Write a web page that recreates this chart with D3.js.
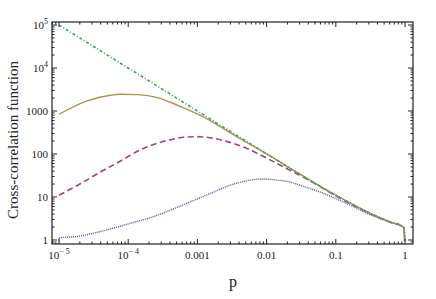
<!DOCTYPE html>
<html>
<head>
<meta charset="utf-8">
<script src="https://cdn.jsdelivr.net/npm/d3@7"></script>
<style>
  body { margin: 0; background: #fff; }
  text { font-family: "Liberation Serif", "DejaVu Serif", serif; fill: #222; }
</style>
</head>
<body>
<svg width="436" height="299"></svg>
<script>
// values (p, value)
var bluePts = [[1e-5, 0.92], [1e-5, 1.13], [1.7e-5, 1.19], [3.9e-5, 1.56], [1.07e-4, 2.44], [2.3e-4, 3.47],
  [4e-4, 4.9], [1.2e-3, 10.2], [3.7e-3, 20.9], [8.9e-3, 26.3], [0.014, 24.8],
  [0.022, 22.3], [0.030, 19], [0.066, 12.2], [0.16, 6.5], [0.3, 4.0], [0.6, 2.6], [0.93, 2.0], [0.97, 1.8], [0.99, 0.95]];
var magentaPts = [[1e-5, 11], [2e-5, 20], [4.4e-5, 42], [6.8e-5, 61], [1.66e-4, 135], [3.2e-4, 195],
  [4e-4, 213], [6.3e-4, 245], [9.8e-4, 253], [1.7e-3, 232], [2.7e-3, 194], [5.1e-3, 136], [0.01, 80],
  [0.0174, 50.5], [0.027, 35], [0.05, 20.5], [0.1, 10.6], [0.316, 4.1], [0.6, 2.62], [0.93, 2.0], [0.97, 1.8], [0.99, 0.95]];
var goldPts = [[1e-5, 840], [2.5e-5, 1700], [5.5e-5, 2320], [7.6e-5, 2450], [1.4e-4, 2400], [2.9e-4, 1970],
  [4e-4, 1620], [5.6e-4, 1290], [1.2e-3, 740], [3.7e-3, 253], [0.0112, 90], [0.0316, 32.6], [0.1, 11],
  [0.316, 4.16], [0.6, 2.66], [0.93, 2.05], [0.97, 1.85], [0.99, 0.95]];
var greenPts = [[1e-5, 100000], [3.16e-5, 31600], [1e-4, 10000], [3.16e-4, 3170], [1e-3, 1000], [3.16e-3, 317],
  [0.01, 101], [0.0316, 32.6], [0.1, 11], [0.316, 4.16], [0.6, 2.66], [0.93, 2.08], [0.97, 1.9], [0.99, 0.95]];

var xTicks = [1e-5, 1e-4, 1e-3, 1e-2, 1e-1, 1];
var xTickLabels = [["10", "-5"], ["10", "-4"], ["0.001"], ["0.01"], ["0.1"], ["1"]];
var yTicks = [1, 10, 100, 1000, 1e4, 1e5];
var yTickLabels = [["1"], ["10"], ["100"], ["1000"], ["10", "4"], ["10", "5"]];

var svg = d3.select("svg");
var frame = {left: 52, right: 413, top: 22, bottom: 244};

var x = d3.scaleLog().domain([1e-5, 1]).range([59, 405]);
var y = d3.scaleLog().domain([1, 1e5]).range([240, 25]);

var series = [
  {pts: bluePts, color: "#5050b4", dash: "1,1", width: 1.4},
  {pts: magentaPts, color: "#a3427f", dash: "6,3.5", width: 1.6},
  {pts: goldPts, color: "#ab9552", dash: null, width: 1.4},
  {pts: greenPts, color: "#3fa35a", dash: "3,2,1,2", width: 1.6}
];

var line = d3.line()
  .x(function(d) { return x(d[0]); })
  .y(function(d) { return y(d[1]); })
  .curve(d3.curveMonotoneX);

svg.append("clipPath").attr("id", "clip")
  .append("rect")
  .attr("x", frame.left).attr("y", frame.top)
  .attr("width", frame.right - frame.left).attr("height", frame.bottom - frame.top);

var g = svg.append("g").attr("clip-path", "url(#clip)");
series.forEach(function(s) {
  g.append("path")
    .attr("d", line(s.pts))
    .attr("fill", "none")
    .attr("stroke", s.color)
    .attr("stroke-width", s.width)
    .attr("stroke-dasharray", s.dash);
});

// ticks, minor and major, pointing inward on all four sides
var minorX = [];
for (var e = -6; e <= 0; e++) {
  for (var k = 2; k <= 9; k++) {
    var v = k * Math.pow(10, e);
    if (x(v) > frame.left && x(v) < frame.right) minorX.push(v);
  }
}
var minorY = [];
for (var e2 = -1; e2 <= 5; e2++) {
  for (var k2 = 2; k2 <= 9; k2++) {
    var v2 = k2 * Math.pow(10, e2);
    if (y(v2) > frame.top && y(v2) < frame.bottom) minorY.push(v2);
  }
}

var axisG = svg.append("g").attr("stroke", "#222").attr("stroke-width", 1);
function xTick(v, len) {
  axisG.append("line").attr("x1", x(v)).attr("x2", x(v))
    .attr("y1", frame.bottom).attr("y2", frame.bottom - len);
  axisG.append("line").attr("x1", x(v)).attr("x2", x(v))
    .attr("y1", frame.top).attr("y2", frame.top + len);
}
function yTick(v, len) {
  axisG.append("line").attr("y1", y(v)).attr("y2", y(v))
    .attr("x1", frame.left).attr("x2", frame.left + len);
  axisG.append("line").attr("y1", y(v)).attr("y2", y(v))
    .attr("x1", frame.right).attr("x2", frame.right - len);
}
minorX.forEach(function(v) { xTick(v, 2.5); });
xTicks.forEach(function(v) { xTick(v, 5); });
minorY.forEach(function(v) { yTick(v, 2.5); });
yTicks.forEach(function(v) { yTick(v, 5); });

svg.append("rect")
  .attr("x", frame.left).attr("y", frame.top)
  .attr("width", frame.right - frame.left).attr("height", frame.bottom - frame.top)
  .attr("fill", "none").attr("stroke", "#222").attr("stroke-width", 1.2);

// tick labels
xTicks.forEach(function(v, i) {
  var t = svg.append("text")
    .attr("x", x(v)).attr("y", 259)
    .attr("text-anchor", "middle")
    .attr("font-size", 11);
  t.append("tspan").text(xTickLabels[i][0]);
  if (xTickLabels[i][1]) {
    t.append("tspan").attr("dy", -5).attr("font-size", 8).text(xTickLabels[i][1].replace("-", "\u2212 "));
  }
});
yTicks.forEach(function(v, i) {
  var t = svg.append("text")
    .attr("x", 48).attr("y", y(v) + 4)
    .attr("text-anchor", "end")
    .attr("font-size", 11);
  t.append("tspan").text(yTickLabels[i][0]);
  if (yTickLabels[i][1]) {
    t.append("tspan").attr("dy", -5).attr("font-size", 8).text(yTickLabels[i][1]);
  }
});

svg.append("text")
  .attr("x", 233).attr("y", 287)
  .attr("text-anchor", "middle")
  .attr("font-size", 16)
  .text("p");

svg.append("text")
  .attr("transform", "translate(18,140) rotate(-90)")
  .attr("text-anchor", "middle")
  .attr("font-size", 15)
  .text("Cross-correlation function");
</script>
</body>
</html>
